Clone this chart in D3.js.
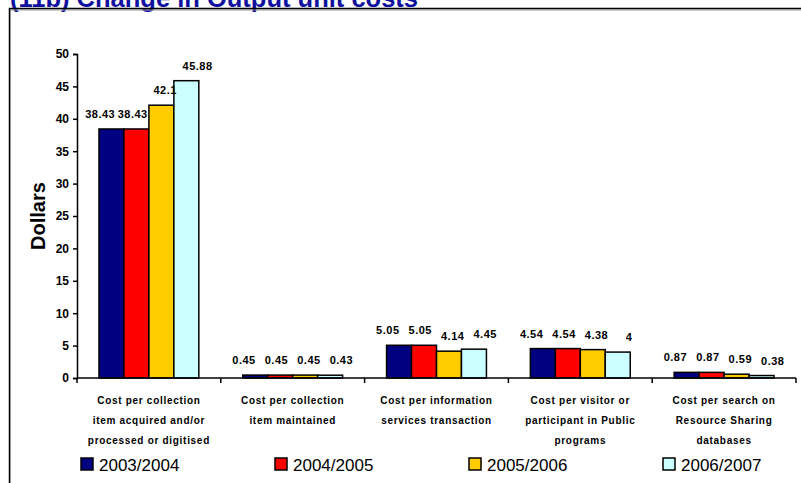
<!DOCTYPE html>
<html>
<head>
<meta charset="utf-8">
<script src="https://cdn.jsdelivr.net/npm/d3@7"></script>
<style>
  body { margin: 0; background: #fff; }
  svg { display: block; }
</style>
</head>
<body>
<div id="chart"></div>
<script>
// chart data
var categories = [
  ["Cost per collection", "item acquired and/or", "processed or digitised"],
  ["Cost per collection", "item maintained"],
  ["Cost per information", "services transaction"],
  ["Cost per visitor or", "participant in Public", "programs"],
  ["Cost per search on", "Resource Sharing", "databases"]
];
var seriesNames = ["2003/2004", "2004/2005", "2005/2006", "2006/2007"];
var s0304 = [38.43, 0.45, 5.05, 4.54, 0.87];
var s0405 = [38.43, 0.45, 5.05, 4.54, 0.87];
var s0506 = [42.1, 0.45, 4.14, 4.38, 0.59];
var s0607 = [45.88, 0.43, 4.45, 4, 0.38];
var yTicks = [0, 5, 10, 15, 20, 25, 30, 35, 40, 45, 50];

var colors = ["#000080", "#ff0000", "#ffcc00", "#ccffff"];
var seriesValues = [s0304, s0405, s0506, s0607];

var width = 801;
var height = 483;

var plotLeft = 77;
var plotRight = 796;
var plotTop = 54;
var plotBottom = 378;

var svg = d3.select("#chart")
  .append("svg")
  .attr("width", width)
  .attr("height", height);

// title (cut off at the top like the original)
svg.append("text")
  .attr("x", 10)
  .attr("y", 7)
  .attr("font-family", "Liberation Sans, Arial, sans-serif")
  .attr("font-weight", "bold")
  .attr("font-size", 25.5)
  .attr("fill", "#1010a0")
  .text("(11b) Change in Output unit costs");

// frame
svg.append("rect")
  .attr("x", 10).attr("y", 10)
  .attr("width", 820).attr("height", 500)
  .attr("fill", "none")
  .attr("stroke", "#999").attr("stroke-width", 1);
svg.append("rect")
  .attr("x", 9.5).attr("y", 8.5)
  .attr("width", 820).attr("height", 500)
  .attr("fill", "none")
  .attr("stroke", "#000").attr("stroke-width", 1.5);

var x0 = d3.scaleBand()
  .domain(d3.range(categories.length))
  .range([plotLeft, plotRight]);

var x1 = d3.scaleBand()
  .domain(d3.range(seriesNames.length))
  .range([0, x0.bandwidth()])
  .paddingOuter(0.88)
  .paddingInner(0);

var y = d3.scaleLinear()
  .domain([0, 50])
  .range([plotBottom, plotTop]);

// y axis
var yAxis = d3.axisLeft(y).tickValues(yTicks).tickSize(4).tickPadding(4);
var yG = svg.append("g")
  .attr("transform", "translate(" + plotLeft + ",0)")
  .call(yAxis);
yG.select(".domain").attr("stroke", "#000").attr("stroke-width", 1.5);
yG.selectAll(".tick line").attr("stroke", "#000").attr("stroke-width", 1.5);
yG.selectAll(".tick text")
  .attr("font-family", "Liberation Sans, Arial, sans-serif")
  .attr("font-weight", "bold")
  .attr("font-size", 12)
  .attr("fill", "#000");

// y title
svg.append("text")
  .attr("transform", "translate(45,216) rotate(-90)")
  .attr("text-anchor", "middle")
  .attr("font-family", "Liberation Sans, Arial, sans-serif")
  .attr("font-weight", "bold")
  .attr("font-size", 20)
  .text("Dollars");

// bars
var groups = svg.selectAll("g.cat")
  .data(categories)
  .enter()
  .append("g")
  .attr("class", "cat")
  .attr("transform", function(d, i) { return "translate(" + x0(i) + ",0)"; });

var mid = x0.bandwidth() / 2;
var spread = 1.3; // value labels fan out a little wider than the bars

groups.each(function(d, ci) {
  var g = d3.select(this);
  var vals = seriesValues.map(function(s) { return s[ci]; });
  g.selectAll("rect")
    .data(vals)
    .enter()
    .append("rect")
    .attr("x", function(v, si) { return x1(si); })
    .attr("y", function(v) { return y(v); })
    .attr("width", x1.bandwidth())
    .attr("height", function(v) { return y(0) - y(v); })
    .attr("fill", function(v, si) { return colors[si]; })
    .attr("stroke", "#000")
    .attr("stroke-width", 1.5);

  g.selectAll("text.val")
    .data(vals)
    .enter()
    .append("text")
    .attr("class", "val")
    .attr("x", function(v, si) {
      var c = x1(si) + x1.bandwidth() / 2;
      return mid + (c - mid) * spread;
    })
    .attr("y", function(v) { return y(v) - 11; })
    .attr("text-anchor", "middle")
    .attr("font-family", "Liberation Sans, Arial, sans-serif")
    .attr("font-weight", "bold")
    .attr("font-size", 11)
    .attr("letter-spacing", 0.5)
    .text(function(v) { return v; });

  var lbl = g.append("text")
    .attr("text-anchor", "middle")
    .attr("font-family", "Liberation Sans, Arial, sans-serif")
    .attr("font-weight", "bold")
    .attr("font-size", 10)
    .attr("letter-spacing", 0.7);
  d.forEach(function(line, li) {
    lbl.append("tspan")
      .attr("x", mid)
      .attr("y", 404 + li * 20)
      .text(line);
  });
});

// x axis with ticks at category boundaries
var xAxisG = svg.append("g");
xAxisG.append("line")
  .attr("x1", plotLeft).attr("x2", plotRight)
  .attr("y1", plotBottom).attr("y2", plotBottom)
  .attr("stroke", "#000").attr("stroke-width", 1.5);
var bounds = d3.range(categories.length + 1).map(function(i) {
  return i < categories.length ? x0(i) : x0(i - 1) + x0.bandwidth();
});
xAxisG.selectAll("line.tick")
  .data(bounds)
  .enter()
  .append("line")
  .attr("class", "tick")
  .attr("x1", function(d) { return d; })
  .attr("x2", function(d) { return d; })
  .attr("y1", plotBottom)
  .attr("y2", plotBottom + 5)
  .attr("stroke", "#000").attr("stroke-width", 1.5);

// legend
var legend = svg.selectAll("g.legend")
  .data(seriesNames)
  .enter()
  .append("g")
  .attr("class", "legend")
  .attr("transform", function(d, i) { return "translate(" + (81 + i * 194) + ",458)"; });
legend.append("rect")
  .attr("width", 12).attr("height", 12)
  .attr("fill", function(d, i) { return colors[i]; })
  .attr("stroke", "#000").attr("stroke-width", 1.5);
legend.append("text")
  .attr("x", 18)
  .attr("y", 13)
  .attr("font-family", "Liberation Sans, Arial, sans-serif")
  .attr("font-size", 17)
  .text(function(d) { return d; });
</script>
</body>
</html>
